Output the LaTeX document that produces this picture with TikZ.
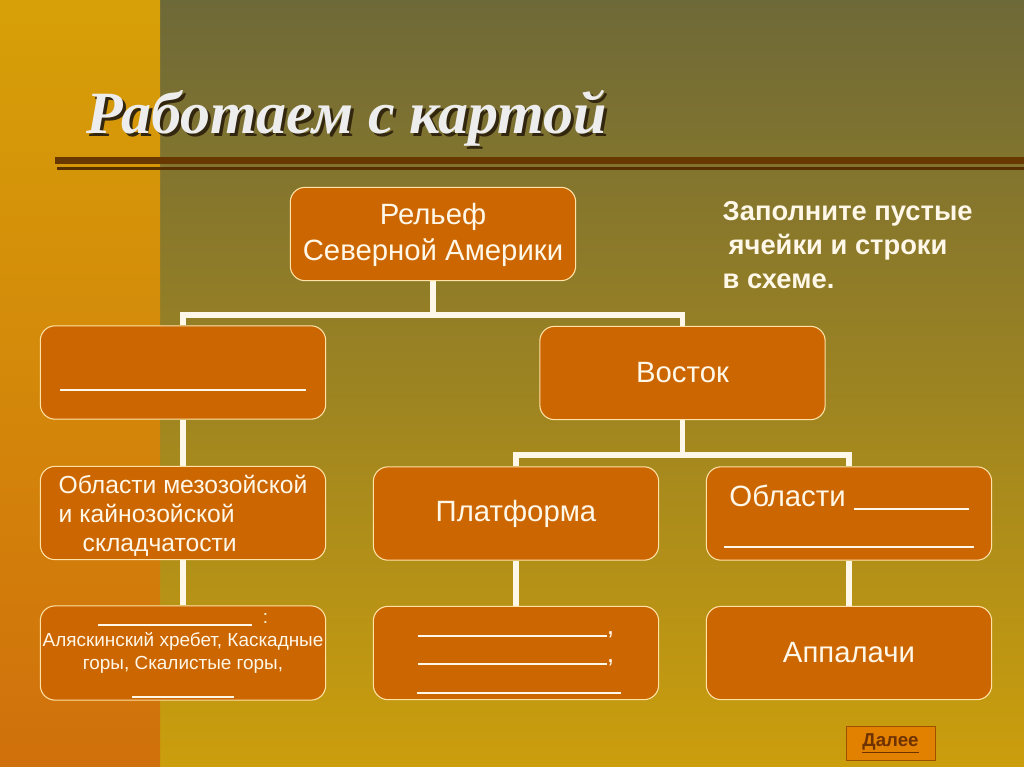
\documentclass[tikz,border=0pt]{standalone}
\usepackage{fontspec}
\setmainfont{Liberation Sans}
\newfontfamily\titlefont{Liberation Serif}
\usetikzlibrary{positioning}

\definecolor{boxfill}{RGB}{204,102,0}
\definecolor{boxline}{RGB}{255,226,165}
\definecolor{cream}{RGB}{255,247,232}
\definecolor{olivetop}{RGB}{110,105,56}
\definecolor{olivemid}{RGB}{158,128,42}
\definecolor{goldbot}{RGB}{203,158,12}
\definecolor{striptop}{RGB}{215,160,8}
\definecolor{stripbot}{RGB}{208,112,12}
\definecolor{rulebrown}{RGB}{104,56,0}
\definecolor{btnfill}{RGB}{226,128,0}
\definecolor{btntext}{RGB}{110,50,0}
\definecolor{titleshadow}{RGB}{50,38,15}

\pgfdeclarelayer{bg}
\pgfdeclarelayer{links}
\pgfsetlayers{bg,links,main}

\newcommand{\fillin}[1]{\rule[-2pt]{#1}{1.4pt}}

\begin{document}
\begin{tikzpicture}[x=0.75pt, y=-0.75pt,
	box/.style={draw=boxline, line width=0.8pt, fill=boxfill, rounded corners=11pt,
		minimum width=214pt, minimum height=70pt, text=cream, align=center,
		font=\fontsize{22}{27}\selectfont},
	link/.style={draw=cream, line width=3.8pt}]
	\useasboundingbox (0,0) rectangle (1024,767);
	
	% Background
	\begin{pgfonlayer}{bg}
		\shade[top color=olivetop, middle color=olivemid, bottom color=goldbot] (160,0) rectangle (1024,767);
		\shade[top color=striptop, bottom color=stripbot] (0,0) rectangle (160,767);
		\fill[rulebrown] (55,157) rectangle (1024,164);
		\fill[rulebrown!85!black] (57,167) rectangle (1024,170);
		% title shadow
		\path (85,136) node[anchor=base west, text=titleshadow,
			font=\titlefont\bfseries\itshape\fontsize{45}{50}\selectfont] {Работаем с картой};
	\end{pgfonlayer}
	
	% Title
	\node (title) at (82,133) [anchor=base west, text=white!93!black,
		font=\titlefont\bfseries\itshape\fontsize{45}{50}\selectfont] {Работаем с картой};
	
	% Task
	\node (task) at (718,245) [anchor=west, align=left, text=cream,
		font=\bfseries\fontsize{20.5}{25.5}\selectfont]
		{Заполните пустые\\\hspace{4.5pt}ячейки и строки\\в схеме.};
	
	% Level 1
	\node (relief) at (433,234) [box, text height=39pt, text depth=0pt] {Рельеф\\Северной Америки};
	
	% Level 2
	\node (west) at (183,372.5) [box, text height=23pt, text depth=0pt] {\fillin{184pt}};
	\node (east) at (682.5,373) [box] {Восток};
	
	% Level 3
	\node (fold) at (183,513) [box, align=left, text height=58pt, text depth=0pt,
		font=\fontsize{18.5}{22}\selectfont]
		{Области мезозойской\\и кайнозойской\\\hspace{18pt}складчатости};
	\node (platform) at (516,513.5) [box] {Платформа};
	\node (areas) at (849,513.5) [box, text height=48pt, text depth=0pt,
		font=\fontsize{22}{29}\selectfont] {Области \fillin{86pt}\\\fillin{187pt}};
	
	% Level 4
	\node (ranges) at (183,653) [box, inner xsep=1pt, text height=64pt, text depth=0pt,
		font=\fontsize{14.2}{17.5}\selectfont]
		{\fillin{116pt}\ \ :\\Аляскинский хребет, Каскадные\\горы, Скалистые горы,\\[2pt]\fillin{76pt}};
	\node (blanks) at (516,653) [box, text height=57.5pt, text depth=0pt, font=\fontsize{20}{21.5}\selectfont]
		{\fillin{142pt},\\\fillin{142pt},\\\hspace{4pt}\fillin{153pt}};
	\node (appal) at (849,653) [box] {Аппалачи};
	
	% Next button
	\node (next) at (890.5,743) [draw=btntext!60!btnfill, line width=0.4pt, fill=btnfill,
		minimum width=66.5pt, minimum height=25.5pt, text=btntext,
		font=\bfseries\fontsize{14}{16}\selectfont] {\underline{Далее}};
	
	% Links
	\coordinate (bus top) at (433,315);
	\coordinate (bus east) at (682.5,455);
	\begin{pgfonlayer}{links}
		\draw[link] (relief.south) -- (bus top);
		\draw[link] (west.north) |- (bus top) -| (east.north);
		\draw[link] (west) -- (fold) -- (ranges);
		\draw[link] (east.south) -- (bus east);
		\draw[link] (platform.north) |- (bus east) -| (areas.north);
		\foreach \a/\b in {platform/blanks, areas/appal}{
			\draw[link] (\a) -- (\b);
		}
	\end{pgfonlayer}
	
\end{tikzpicture}
\end{document}
